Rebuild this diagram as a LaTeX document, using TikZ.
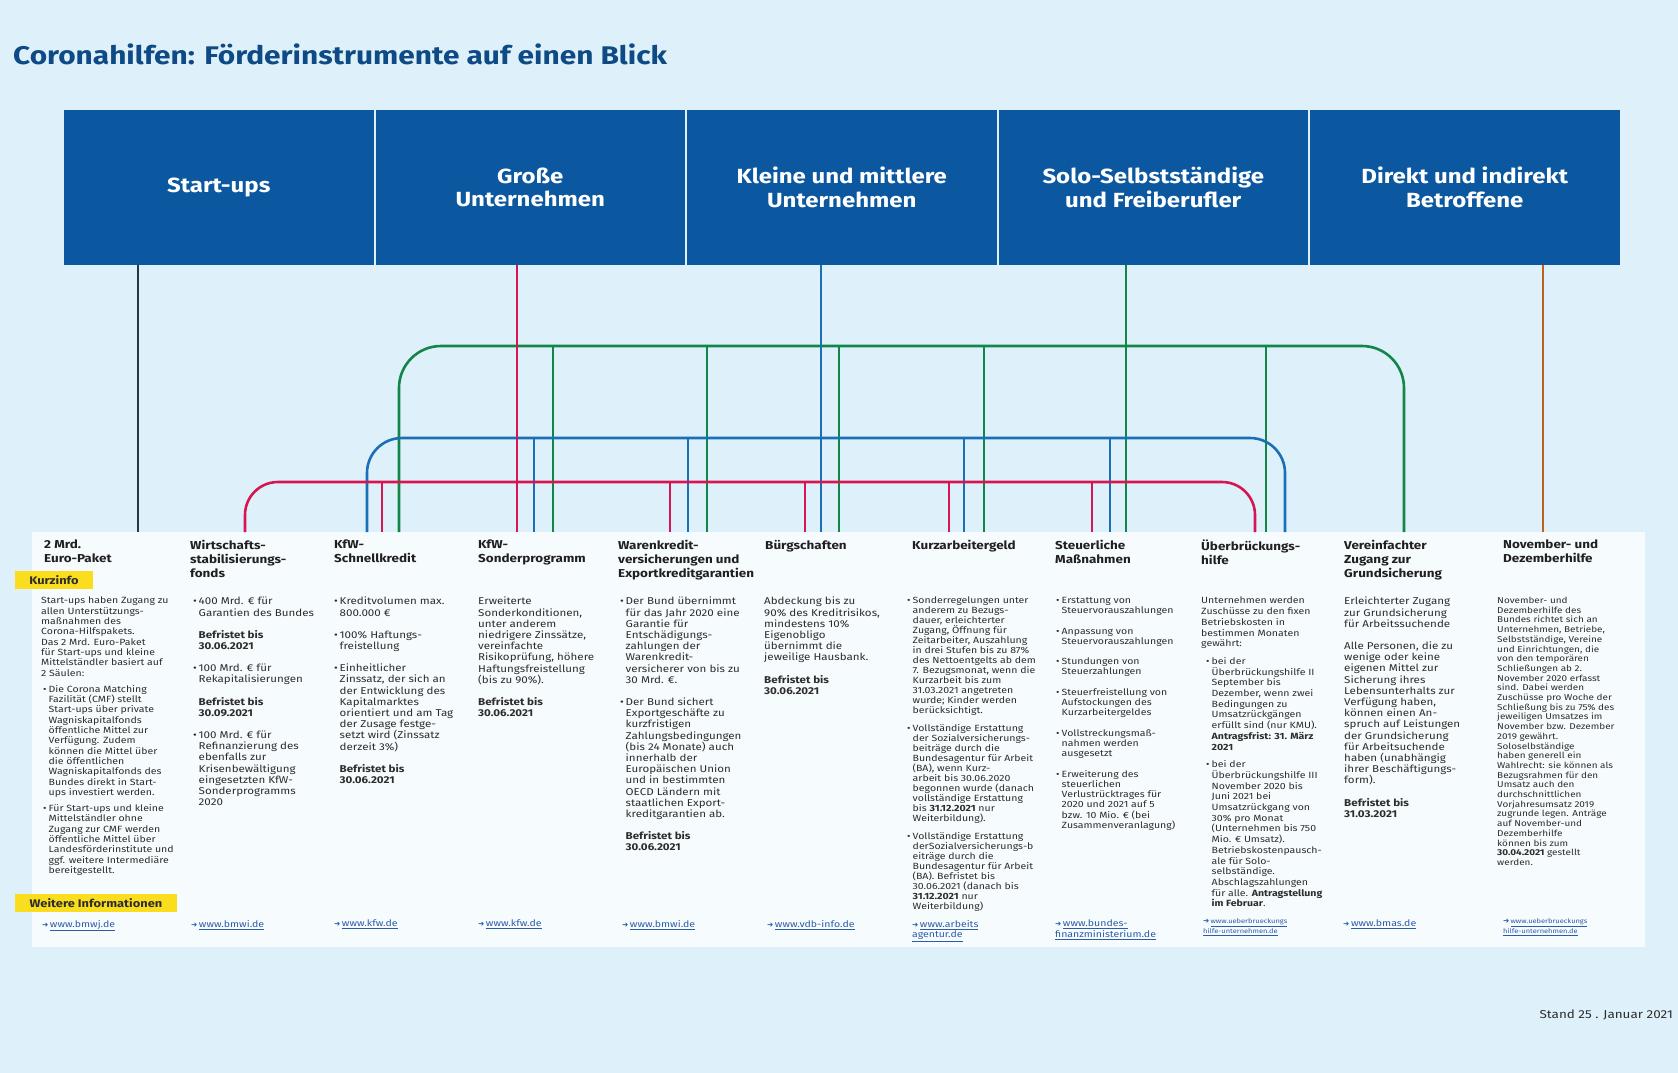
\documentclass[tikz,border=0pt]{standalone}
\usepackage{fontspec}
\setmainfont{Fira Sans}[FakeStretch=1.17]
\newfontfamily\headfont{Fira Sans}[FakeStretch=1.17]
\newfontfamily\iconfont{DejaVu Sans}
\usepackage{tikz}
\usepackage{xcolor}
\definecolor{sky}{RGB}{222,240,249}
\definecolor{paper}{RGB}{246,251,253}
\definecolor{navy}{RGB}{12,88,160}
\definecolor{titleblue}{RGB}{14,74,134}
\definecolor{marker}{RGB}{250,222,30}
\definecolor{red}{RGB}{214,22,82}
\definecolor{blue}{RGB}{26,112,182}
\definecolor{green}{RGB}{18,134,72}
\definecolor{orange}{RGB}{186,98,32}
\definecolor{ink}{RGB}{45,45,45}
\definecolor{linkblue}{RGB}{44,92,168}

\newcommand{\bul}{\makebox[5.5pt][l]{•}}
\newcommand{\ind}{\hspace*{5.5pt}}
\newcommand{\weblink}[1]{{\iconfont\fontsize{7.5}{7.5}\selectfont ➜}\,\underline{#1}}

\tikzset{
  maintitle/.style={anchor=west, inner sep=0pt, text=titleblue, font=\headfont\bfseries\fontsize{25.5}{30}\selectfont},
  target/.style={fill=navy, text=white, minimum width=309.5pt, minimum height=155pt, inner sep=0pt, align=center, font=\headfont\bfseries\fontsize{20.5}{23.5}\selectfont},
  coltitle/.style={anchor=north west, inner sep=0pt, align=left, text=ink!70!black, font=\headfont\bfseries\fontsize{11.5}{14}\selectfont},
  body/.style={anchor=north west, inner sep=0pt, align=left, text=ink, font=\fontsize{9.9}{11.2}\selectfont},
  smallbody/.style={body, font=\fontsize{9}{10.3}\selectfont},
  tinybody/.style={body, font=\fontsize{8.5}{9.7}\selectfont},
  link/.style={anchor=north west, inner sep=0pt, align=left, text=linkblue, font=\fontsize{9}{10.6}\selectfont},
  tinylink/.style={link, font=\fontsize{6.4}{10.6}\selectfont},
  tag/.style={fill=marker, inner sep=0pt, minimum height=18pt, text=ink, font=\headfont\bfseries\fontsize{11}{13}\selectfont},
  wire/.style={line width=2.6pt},
  redline/.style={wire, draw=red},
  blueline/.style={wire, draw=blue},
  greenline/.style={wire, draw=green},
  blackline/.style={wire, draw=ink!80!navy},
  orangeline/.style={wire, draw=orange}
}

\begin{document}
\begin{tikzpicture}[x=1pt,y=-1pt]
  % Background
  \fill[sky] (0,0) rectangle (1678,1073);
  \useasboundingbox (0,0) rectangle (1678,1073);

  % Title
  \node[maintitle] (title) at (13,54) {Coronahilfen: Förderinstrumente auf einen Blick};

  % Target groups
  \node[target] (hStart) at (218.75,187.5) {Start-ups};
  \node[target] (hGross) at (530.25,187.5) {Große\\Unternehmen};
  \node[target] (hKmu) at (841.75,187.5) {Kleine und mittlere\\Unternehmen};
  \node[target] (hSolo) at (1153.25,187.5) {Solo-Selbstständige\\und Freiberufler};
  \node[target] (hDirekt) at (1464.75,187.5) {Direkt und indirekt\\Betroffene};

  % Panel
  \fill[paper] (32,532) rectangle (1645,947);

  % Bus levels
  \coordinate (gbus) at (0,346);
  \coordinate (bbus) at (0,438);
  \coordinate (rbus) at (0,482);

  % Green: Solo-Selbststaendige
  \foreach \n/\x in {Schnell/399, Sonder/553, Waren/707, Buerg/839, Kurz/984, Steuer/1126, Ueber/1266, Grund/1404}
    \coordinate (gr\n) at (\x,532);
  \draw[greenline, rounded corners=42pt] (grSchnell) |- (gbus -| grGrund) -- (grGrund);
  \draw[greenline] (hSolo.south -| grSteuer) -- (grSteuer);
  \foreach \n in {Sonder,Waren,Buerg,Kurz,Ueber}
    \draw[greenline] (gbus -| gr\n) -- (gr\n);

  % Blue: KMU
  \foreach \n/\x in {Schnell/367, Sonder/534, Waren/688, Buerg/821, Kurz/964, Steuer/1110, Ueber/1285}
    \coordinate (bl\n) at (\x,532);
  \draw[blueline, rounded corners=35pt] (blSchnell) |- (bbus -| blUeber) -- (blUeber);
  \draw[blueline] (hKmu.south -| blBuerg) -- (blBuerg);
  \foreach \n in {Sonder,Waren,Kurz,Steuer}
    \draw[blueline] (bbus -| bl\n) -- (bl\n);

  % Red: Grosse Unternehmen
  \foreach \n/\x in {Wsf/245, Schnell/382, Sonder/517, Waren/670, Buerg/805, Kurz/949, Steuer/1092, Ueber/1255}
    \coordinate (rd\n) at (\x,532);
  \draw[redline, rounded corners=33pt] (rdWsf) |- (rbus -| rdUeber) -- (rdUeber);
  \draw[redline] (hGross.south -| rdSonder) -- (rdSonder);
  \foreach \n in {Schnell,Waren,Buerg,Kurz,Steuer}
    \draw[redline] (rbus -| rd\n) -- (rd\n);

  % Start-ups and Betroffene
  \coordinate (bkPaket) at (138,532);
  \coordinate (orNovDez) at (1543,532);
  \draw[blackline] (hStart.south -| bkPaket) -- (bkPaket);
  \draw[orangeline] (hDirekt.south -| orNovDez) -- (orNovDez);

  % Instruments
  \node[coltitle] (ttlPaket) at (44,540) {2 Mrd.\\Euro-Paket};
  \node[coltitle] (ttlWsf) at (190,540) {Wirtschafts-\\stabilisierungs-\\fonds};
  \node[coltitle] (ttlSchnell) at (334,540) {KfW-\\Schnellkredit};
  \node[coltitle] (ttlSonder) at (478,540) {KfW-\\Sonderprogramm};
  \node[coltitle] (ttlWaren) at (618,540) {Warenkredit-\\versicherungen und\\Exportkreditgarantien};
  \node[coltitle] (ttlBuerg) at (765,540) {Bürgschaften};
  \node[coltitle] (ttlKurz) at (912,540) {Kurzarbeitergeld};
  \node[coltitle] (ttlSteuer) at (1055,540) {Steuerliche\\Maßnahmen};
  \node[coltitle] (ttlUeber) at (1201,540) {Überbrückungs-\\hilfe};
  \node[coltitle] (ttlGrund) at (1344,540) {Vereinfachter\\Zugang zur\\Grundsicherung};
  \node[coltitle] (ttlNovDez) at (1503,540) {November- und\\Dezemberhilfe};

  % Labels
  \node[tag, minimum width=78pt] (kurzinfo) at (54,580) {Kurzinfo};
  \node[tag, minimum width=162pt] (weitere) at (96,903) {Weitere Informationen};

  % Texts
  \node[smallbody] (txtPaket) at (41,597) {Start-ups haben Zugang zu\\allen Unterstützungs-\\maßnahmen des\\Corona-Hilfspakets.\\Das 2 Mrd. Euro-Paket\\für Start-ups und kleine\\Mittelständler basiert auf\\2 Säulen:\\[6pt]
    \hspace*{2pt}\bul Die Corona Matching\\\hspace*{7.5pt}Fazilität (CMF) stellt\\\hspace*{7.5pt}Start-ups über private\\\hspace*{7.5pt}Wagniskapitalfonds\\\hspace*{7.5pt}öffentliche Mittel zur\\\hspace*{7.5pt}Verfügung. Zudem\\\hspace*{7.5pt}können die Mittel über\\\hspace*{7.5pt}die öffentlichen\\\hspace*{7.5pt}Wagniskapitalfonds des\\\hspace*{7.5pt}Bundes direkt in Start-\\\hspace*{7.5pt}ups investiert werden.\\[6pt]
    \hspace*{2pt}\bul Für Start-ups und kleine\\\hspace*{7.5pt}Mittelständler ohne\\\hspace*{7.5pt}Zugang zur CMF werden\\\hspace*{7.5pt}öffentliche Mittel über\\\hspace*{7.5pt}Landesförderinstitute und\\\hspace*{7.5pt}ggf. weitere Intermediäre\\\hspace*{7.5pt}bereitgestellt.};
  \node[body] (txtWsf) at (193,597) {\bul 400 Mrd. € für\\\ind Garantien des Bundes\\[11pt]
    \ind\textbf{Befristet bis}\\\ind\textbf{30.06.2021}\\[11pt]
    \bul 100 Mrd. € für\\\ind Rekapitalisierungen\\[11pt]
    \ind\textbf{Befristet bis}\\\ind\textbf{30.09.2021}\\[11pt]
    \bul 100 Mrd. € für\\\ind Refinanzierung des\\\ind ebenfalls zur\\\ind Krisenbewältigung\\\ind eingesetzten KfW-\\\ind Sonderprogramms\\\ind 2020};
  \node[body] (txtSchnell) at (334,597) {\bul Kreditvolumen max.\\\ind 800.000 €\\[11pt]
    \bul 100\% Haftungs-\\\ind freistellung\\[11pt]
    \bul Einheitlicher\\\ind Zinssatz, der sich an\\\ind der Entwicklung des\\\ind Kapitalmarktes\\\ind orientiert und am Tag\\\ind der Zusage festge-\\\ind setzt wird (Zinssatz\\\ind derzeit 3\%)\\[11pt]
    \ind\textbf{Befristet bis}\\\ind\textbf{30.06.2021}};
  \node[body] (txtSonder) at (478,597) {Erweiterte\\Sonderkonditionen,\\unter anderem\\niedrigere Zinssätze,\\vereinfachte\\Risikoprüfung, höhere\\Haftungsfreistellung\\(bis zu 90\%).\\[11pt]
    \textbf{Befristet bis}\\\textbf{30.06.2021}};
  \node[body] (txtWaren) at (620,597) {\bul Der Bund übernimmt\\\ind für das Jahr 2020 eine\\\ind Garantie für\\\ind Entschädigungs-\\\ind zahlungen der\\\ind Warenkredit-\\\ind versicherer von bis zu\\\ind 30 Mrd. €.\\[11pt]
    \bul Der Bund sichert\\\ind Exportgeschäfte zu\\\ind kurzfristigen\\\ind Zahlungsbedingungen\\\ind (bis 24 Monate) auch\\\ind innerhalb der\\\ind Europäischen Union\\\ind und in bestimmten\\\ind OECD Ländern mit\\\ind staatlichen Export-\\\ind kreditgarantien ab.\\[11pt]
    \ind\textbf{Befristet bis}\\\ind\textbf{30.06.2021}};
  \node[body] (txtBuerg) at (764,597) {Abdeckung bis zu\\90\% des Kreditrisikos,\\mindestens 10\%\\Eigenobligo\\übernimmt die\\jeweilige Hausbank.\\[11pt]
    \textbf{Befristet bis}\\\textbf{30.06.2021}};
  \node[smallbody, font=\fontsize{9}{10}\selectfont] (txtKurz) at (907,597) {\bul Sonderregelungen unter\\\ind anderem zu Bezugs-\\\ind dauer, erleichterter\\\ind Zugang, Öffnung für\\\ind Zeitarbeiter, Auszahlung\\\ind in drei Stufen bis zu 87\%\\\ind des Nettoentgelts ab dem\\\ind 7. Bezugsmonat, wenn die\\\ind Kurzarbeit bis zum\\\ind 31.03.2021 angetreten\\\ind wurde; Kinder werden\\\ind berücksichtigt.\\[8pt]
    \bul Vollständige Erstattung\\\ind der Sozialversicherungs-\\\ind beiträge durch die\\\ind Bundesagentur für Arbeit\\\ind (BA), wenn Kurz-\\\ind arbeit bis 30.06.2020\\\ind begonnen wurde (danach\\\ind vollständige Erstattung\\\ind bis \textbf{31.12.2021} nur\\\ind Weiterbildung).\\[8pt]
    \bul Vollständige Erstattung\\\ind derSozialversicherungs-b\\\ind eiträge durch die\\\ind Bundesagentur für Arbeit\\\ind (BA). Befristet bis\\\ind 30.06.2021 (danach bis\\\ind\textbf{31.12.2021} nur\\\ind Weiterbildung)};
  \node[smallbody] (txtSteuer) at (1056,597) {\bul Erstattung von\\\ind Steuervorauszahlungen\\[10pt]
    \bul Anpassung von\\\ind Steuervorauszahlungen\\[10pt]
    \bul Stundungen von\\\ind Steuerzahlungen\\[10pt]
    \bul Steuerfreistellung von\\\ind Aufstockungen des\\\ind Kurzarbeitergeldes\\[10pt]
    \bul Vollstreckungsmaß-\\\ind nahmen werden\\\ind ausgesetzt\\[10pt]
    \bul Erweiterung des\\\ind steuerlichen\\\ind Verlustrücktrages für\\\ind 2020 und 2021 auf 5\\\ind bzw. 10 Mio. € (bei\\\ind Zusammenveranlagung)};
  \node[smallbody, font=\fontsize{9}{10.7}\selectfont] (txtUeber) at (1201,597) {Unternehmen werden\\Zuschüsse zu den fixen\\Betriebskosten in\\bestimmen Monaten\\gewährt:\\[7pt]
    \hspace*{5pt}\bul bei der\\\hspace*{10.5pt}Überbrückungshilfe II\\\hspace*{10.5pt}September bis\\\hspace*{10.5pt}Dezember, wenn zwei\\\hspace*{10.5pt}Bedingungen zu\\\hspace*{10.5pt}Umsatzrückgängen\\\hspace*{10.5pt}erfüllt sind (nur KMU).\\\hspace*{10.5pt}\textbf{Antragsfrist: 31. März}\\\hspace*{10.5pt}\textbf{2021}\\[7pt]
    \hspace*{5pt}\bul bei der\\\hspace*{10.5pt}Überbrückungshilfe III\\\hspace*{10.5pt}November 2020 bis\\\hspace*{10.5pt}Juni 2021 bei\\\hspace*{10.5pt}Umsatzrückgang von\\\hspace*{10.5pt}30\% pro Monat\\\hspace*{10.5pt}(Unternehmen bis 750\\\hspace*{10.5pt}Mio. € Umsatz).\\\hspace*{10.5pt}Betriebskostenpausch-\\\hspace*{10.5pt}ale für Solo-\\\hspace*{10.5pt}selbständige.\\\hspace*{10.5pt}Abschlagszahlungen\\\hspace*{10.5pt}für alle. \textbf{Antragstellung}\\\hspace*{10.5pt}\textbf{im Februar}.};
  \node[body] (txtGrund) at (1344,597) {Erleichterter Zugang\\zur Grundsicherung\\für Arbeitssuchende\\[11pt]
    Alle Personen, die zu\\wenige oder keine\\eigenen Mittel zur\\Sicherung ihres\\Lebensunterhalts zur\\Verfügung haben,\\können einen An-\\spruch auf Leistungen\\der Grundsicherung\\für Arbeitsuchende\\haben (unabhängig\\ihrer Beschäftigungs-\\form).\\[11pt]
    \textbf{Befristet bis}\\\textbf{31.03.2021}};
  \node[tinybody] (txtNovDez) at (1497,597) {November- und\\Dezemberhilfe des\\Bundes richtet sich an\\Unternehmen, Betriebe,\\Selbstständige, Vereine\\und Einrichtungen, die\\von den temporären\\Schließungen ab 2.\\November 2020 erfasst\\sind. Dabei werden\\Zuschüsse pro Woche der\\Schließung bis zu 75\% des\\jeweiligen Umsatzes im\\November bzw. Dezember\\2019 gewährt.\\Soloselbständige\\haben generell ein\\Wahlrecht: sie können als\\Bezugsrahmen für den\\Umsatz auch den\\durchschnittlichen\\Vorjahresumsatz 2019\\zugrunde legen. Anträge\\auf November-und\\Dezemberhilfe\\können bis zum\\\textbf{30.04.2021} gestellt\\werden.};

  % Links
  \node[link] (lnkPaket) at (42,920) {\weblink{www.bmwj.de}};
  \node[link] (lnkWsf) at (191,920) {\weblink{www.bmwi.de}};
  \node[link] (lnkSchnell) at (334,920) {\weblink{www.kfw.de}};
  \node[link] (lnkSonder) at (478,920) {\weblink{www.kfw.de}};
  \node[link] (lnkWaren) at (622,920) {\weblink{www.bmwi.de}};
  \node[link] (lnkBuerg) at (767,920) {\weblink{www.vdb-info.de}};
  \node[link] (lnkKurz) at (912,920) {\weblink{www.arbeits}\\\underline{agentur.de}};
  \node[link] (lnkSteuer) at (1055,920) {\weblink{www.bundes-}\\\underline{finanzministerium.de}};
  \node[tinylink] (lnkUeber) at (1203,918) {\weblink{www.ueberbrueckungs}\\\underline{hilfe-unternehmen.de}};
  \node[link] (lnkGrund) at (1343,920) {\weblink{www.bmas.de}};
  \node[tinylink] (lnkNovDez) at (1503,918) {\weblink{www.ueberbrueckungs}\\\underline{hilfe-unternehmen.de}};

  % Date
  \node[anchor=east, inner sep=0pt, text=ink, font=\fontsize{11.5}{13}\selectfont] (stand) at (1673,1015) {Stand 25 . Januar 2021};
\end{tikzpicture}
\end{document}
